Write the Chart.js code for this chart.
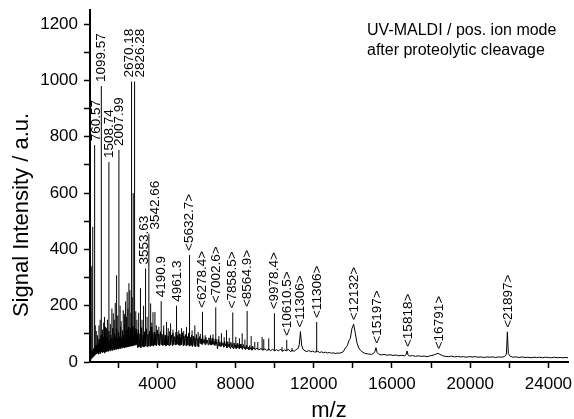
<!DOCTYPE html>
<html>
<head>
<meta charset="utf-8">
<script src="https://cdn.jsdelivr.net/npm/chart.js@4.4.0/dist/chart.umd.min.js"></script>
<style>
  html, body { margin: 0; padding: 0; background: #fff; }
  #wrap { width: 574px; height: 419px; }
</style>
</head>
<body>
<div id="wrap"><canvas id="spectrum" width="574" height="419"></canvas></div>
<script>
// continuous trace (baseline + noise)
const traceMz = [
  560,575,590,605,620,640,660,680,700,720,740,760,780,800,825,850,875,900,925,950,975,
  1000,1025,1050,1075,1100,1125,1150,1175,1200,1225,
  1250,1275,1300,1325,1350,1375,1400,1425,1450,1475,
  1500,1525,1550,1575,1600,1625,1650,1675,1700,1725,
  1750,1775,1800,1825,1850,1875,1900,1925,1950,1975,
  2000,2025,2050,2075,2100,2125,2150,2175,2200,2225,
  2250,2275,2300,2325,2350,2375,2400,2425,2450,2475,
  2500,2525,2550,2575,2600,2625,2650,2675,2700,2725,
  2750,2775,2800,2825,2850,2875,2900,2925,2950,2975,
  3000,3040,3080,3120,3160,3200,3240,3280,3320,3360,
  3400,3440,3480,3520,3560,3600,3640,3680,3720,3760,
  3800,3840,3880,3920,3960,4000,4040,4080,4120,4160,
  4200,4240,4280,4320,4360,4400,4440,4480,4520,4560,
  4600,4640,4680,4720,4760,4800,4840,4880,4920,4960,
  5000,5040,5080,5120,5160,5200,5240,5280,5320,5360,
  5400,5440,5480,5520,5560,5600,5640,5680,5720,5760,
  5800,5840,5880,5920,5960,6000,6040,6080,6120,6160,
  6200,6240,6280,6320,6360,6400,6440,6480,6520,6560,
  6600,6640,6680,6720,6760,6800,6840,6880,6920,6960,
  7000,7040,7080,7120,7160,7200,7240,7280,7320,7360,
  7400,7440,7480,7520,7560,7600,7640,7680,7720,7760,
  7800,7840,7880,7920,7960,8000,8040,8080,8120,8160,
  8200,8240,8280,8320,8360,8400,8440,8480,8520,8560,
  8600,8640,8680,8720,8760,8800,8840,8880,8920,8960,
  9000,9100,9200,9300,9400,9500,9600,9700,9800,9900,
  10000,10100,10200,10300,10400,10500,10600,10700,10800,10900,
  11000,11100,11200,11260,11320,11380,11450,11550,11650,11750,
  11850,11950,12050,12200,12300,12400,12500,12600,12700,12800,
  12900,13000,13100,13200,13300,13400,13500,13620,13720,13790,
  13870,13950,14040,14120,14210,14300,14380,14480,14600,14720,
  14850,14950,15050,15120,15180,15240,15320,15450,15600,15750,
  15900,16050,16200,16350,16500,16650,16720,16770,16820,16900,
  17050,17200,17350,17500,17650,17800,17950,18100,18250,18350,
  18450,18600,18750,18900,19050,19200,19350,19500,19650,19800,
  19950,20100,20250,20400,20550,20700,20850,21000,21150,21300,
  21450,21600,21750,21850,21900,21950,22050,22200,22350,22500,
  22650,22800,22950,23100,23250,23400,23550,23700,23850,24000,
  24150,24300,24450,24600,24750,24900,25000
];
const traceSignal = [
  0,12,30,8,35,14,42,18,38,20,48,22,45,25,55,28,60,30,58,34,66,
  28,82,35,70,30,95,38,66,33,88,
  36,75,32,104,40,72,37,90,42,80,
  38,110,44,76,40,96,46,84,41,120,
  47,78,43,100,49,88,45,118,50,82,
  46,105,52,90,48,126,54,86,50,112,
  55,94,51,130,56,88,53,115,58,96,
  54,124,60,92,56,118,62,100,57,128,
  63,95,59,120,64,104,60,116,66,98,
  52,112,55,100,51,122,56,96,53,108,
  57,118,54,98,58,110,55,124,59,102,
  56,106,60,96,57,114,61,100,58,108,
  62,98,58,112,60,95,57,104,61,92,
  58,108,62,96,59,102,63,90,60,106,
  63,94,60,100,59,88,62,104,58,92,
  61,98,57,90,60,102,56,88,59,96,
  55,92,58,86,54,98,57,84,53,90,
  68,82,63,94,67,80,62,88,66,78,
  61,86,65,76,60,84,64,74,59,82,
  63,72,46,80,58,70,55,76,60,68,
  52,74,57,66,50,72,55,64,49,70,
  54,62,48,68,52,60,47,66,51,58,
  46,64,50,56,45,62,49,54,44,60,
  48,52,43,58,47,50,42,56,46,49,
  44,50,43,48,42,47,41,46,40,45,
  40,44,39,46,38,43,40,45,37,42,
  38,44,48,62,108,60,45,40,37,41,
  36,39,35,38,34,36,33,35,32,34,
  31,33,30,32,31,33,36,50,58,75,
  84,118,134,104,68,50,42,36,31,29,
  28,27,30,36,51,34,28,25,27,24,
  26,23,25,22,24,22,26,39,25,21,
  23,20,22,20,21,19,22,24,28,31,
  27,22,20,19,21,18,20,18,19,17,
  19,18,19,17,18,16,18,17,18,16,
  18,17,19,28,107,30,20,17,18,16,
  18,16,17,15,17,16,17,15,17,16,
  15,17,15,16,15,16,15
];

// sharp peaks: position, apex and foot
const peakMz   = [600,650,700,797,830,880,940,1020,1080,1139,1200,1260,1300,1350,1400,1450,1527,1600,1680,1750,1800,1850,1920,1980,
                  2038,2100,2150,2260,2320,2380,2420,2460,2500,2550,2600,2650,2686,2720,2770,2840,2900,2960,
                  3050,3140,3220,3300,3401,3480,3570,3660,3720,3780,3880,3950,4080,4200,4330,4475,4560,4680,4800,4985,
                  5100,5240,5350,5495,5650,5780,5920,6090,6200,6310,6450,6720,6850,6990,7150,7280,7420,7540,7680,
                  7860,8015,8200,8340,8480,8595,8800,8985,9140,9360,9445,9700,9990,10380,10620,10890,12150];
const peakTop  = [180,340,480,770,130,110,95,130,150,980,115,140,160,125,120,150,710,135,190,173,150,210,308,165,
                  753,200,145,184,170,215,160,248,190,280,255,175,996,230,600,996,180,150,
                  175,262,150,200,332,160,456,208,140,177,178,130,125,216,130,142,120,137,115,200,
                  112,120,110,124,380,112,130,107,100,178,95,95,98,194,92,102,88,113,86,
                  176,89,84,102,80,181,92,71,71,89,81,84,173,53,78,50,142];
const peakBase = [8,12,15,22,25,28,30,30,32,35,34,35,36,36,38,38,40,42,42,45,44,44,46,46,
                  46,48,48,50,50,52,52,52,54,54,56,56,56,56,58,60,60,60,
                  52,54,54,54,56,56,56,58,58,58,60,60,60,62,60,60,60,62,60,62,
                  62,62,60,58,58,56,56,56,64,62,62,60,60,58,56,55,54,52,52,
                  50,48,46,46,46,46,44,44,44,42,42,41,40,38,40,37,35];

// peak annotations (text centre m/z, intensity of the peak below)
const labelMz  = [900,1120,1570,2040,2585,3150,3320,3880,4200,5020,5650,6310,7010,7860,8600,9990,10640,11330,12170,14080,15250,16830,18400,21950];
const labelTop = [770,980,710,753,996,996,332,456,216,200,380,178,194,176,181,173,78,108,142,134,51,39,31,107];
const labelText = ['760.57','1099.57','1508.74','2007.99','2670.18','2826.28','3553.63','3542.66','4190.9','4961.3',
                   '<5632.7>','<6278.4>','<7002.6>','<7858.5>','<8564.9>','<9978.4>','<10610.5>','<11306>','<11306>',
                   '<12132>','<15197>','<15818>','<16791>','<21897>'];

const xTicks = [2000,4000,6000,8000,10000,12000,14000,16000,18000,20000,22000,24000];
const yTicks = [0,100,200,300,400,500,600,700,800,900,1000,1100,1200];
const noteLines = ['UV-MALDI / pos. ion mode', 'after proteolytic cleavage'];

const FONT = '"Liberation Sans", Arial, sans-serif';

const traceData = traceMz.map((m, i) => ({x: m, y: traceSignal[i]}));
const stickData = [];
peakMz.forEach((m, i) => {
  stickData.push({x: m, y: peakBase[i]}, {x: m, y: peakTop[i]}, {x: m, y: null});
});

// peak labels, note text and y title
const annotations = {
  id: 'annotations',
  afterDatasetsDraw(chart) {
    const ctx = chart.ctx;
    const xs = chart.scales.x, ys = chart.scales.y;
    ctx.save();
    ctx.fillStyle = '#000';
    ctx.font = '13.5px ' + FONT;
    ctx.textAlign = 'left';
    ctx.textBaseline = 'middle';
    labelMz.forEach((m, i) => {
      ctx.save();
      ctx.translate(xs.getPixelForValue(m), ys.getPixelForValue(labelTop[i]) - 4);
      ctx.rotate(-Math.PI / 2);
      ctx.fillText(labelText[i], 0, 0);
      ctx.restore();
    });

    ctx.font = '16px ' + FONT;
    ctx.textBaseline = 'alphabetic';
    ctx.fillText(noteLines[0], 367, 35);
    ctx.fillText(noteLines[1], 367, 55);

    ctx.font = '22px ' + FONT;
    ctx.textAlign = 'center';
    ctx.textBaseline = 'middle';
    ctx.translate(22, 215);
    ctx.rotate(-Math.PI / 2);
    ctx.fillText('Signal Intensity / a.u.', 0, 0);
    ctx.restore();
  }
};

const config = {
  type: 'line',
  data: {
    datasets: [{
      data: traceData,
      borderColor: '#000',
      borderWidth: 1,
      pointRadius: 0,
      tension: 0
    }, {
      data: stickData,
      borderColor: '#000',
      borderWidth: 1,
      pointRadius: 0,
      spanGaps: false
    }]
  },
  options: {
    responsive: false,
    animation: false,
    devicePixelRatio: 1,
    layout: { padding: { top: 10, right: 6, bottom: 0, left: 0 } },
    plugins: { legend: { display: false }, tooltip: { enabled: false } },
    scales: {
      x: {
        type: 'linear',
        min: 560,
        max: 25000,
        afterBuildTicks: s => { s.ticks = xTicks.map(v => ({value: v})); },
        afterFit: s => { s.height = 57; s.paddingLeft = 0; s.paddingRight = 0; },
        ticks: {
          color: '#000',
          font: { size: 17, family: FONT },
          padding: 6,
          autoSkip: false,
          maxRotation: 0,
          callback: v => (v % 4000 === 0 ? String(v) : '')
        },
        grid: { drawOnChartArea: false, drawTicks: true, tickLength: 6, color: '#000', tickWidth: 1.5 },
        border: { color: '#000', width: 2 },
        title: {
          display: true,
          text: 'm/z',
          color: '#000',
          font: { size: 22, family: FONT, lineHeight: 0.7 },
          padding: { top: 0, bottom: 0 }
        }
      },
      y: {
        min: 0,
        max: 1250,
        afterBuildTicks: s => { s.ticks = yTicks.map(v => ({value: v})); },
        afterFit: s => { s.width = 90; s.paddingTop = 0; s.paddingBottom = 0; },
        ticks: {
          color: '#000',
          font: { size: 17, family: FONT },
          padding: 6,
          callback: v => (v % 200 === 0 ? String(v) : '')
        },
        grid: { drawOnChartArea: false, drawTicks: true, tickLength: 6, color: '#000', tickWidth: 1.5 },
        border: { color: '#000', width: 2 }
      }
    }
  },
  plugins: [annotations]
};

const spectrumChart = new Chart(document.getElementById('spectrum'), config);
</script>
</body>
</html>
